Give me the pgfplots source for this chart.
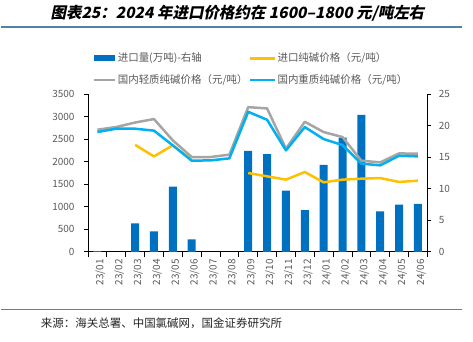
\documentclass[border=0pt]{standalone}
\usepackage{pgfplots}
\pgfplotsset{compat=1.18}
\usepackage{fontspec}
\setmainfont{Noto Sans CJK SC}
\newfontfamily\titlefont[FakeSlant=0.2]{Noto Sans CJK SC}
\definecolor{barblue}{RGB}{0,112,192}
\definecolor{impyellow}{RGB}{255,192,0}
\definecolor{lightgray}{RGB}{165,165,165}
\definecolor{heavyblue}{RGB}{0,176,240}
\definecolor{rulecol}{RGB}{84,130,165}
\definecolor{txtgray}{RGB}{89,89,89}
\pgfplotstableread{
x bar
0 0.1
2 4.5
3 3.25
4 10.35
5 2.0
8 16.0
9 15.5
10 9.7
11 6.6
12 13.8
13 18.1
14 21.7
15 6.4
16 7.5
17 7.6
}\bartable
\pgfplotstableread{
x light heavy imp
0 2710 2659 nan
1 2770 2733 nan
2 2870 2733 2375
3 2947 2690 2118
4 2474 2363 2365
5 2105 2024 2040
6 2105 2030 nan
7 2157 2075 nan
8 3212 3108 1750
9 3183 2931 1676
10 2289 2252 1603
11 2887 2769 1772
12 2658 2503 1543
13 2548 2370 1603
14 2023 1957 1624
15 1986 1920 1638
16 2185 2134 1551
17 2178 2119 1580
}\linetable
\begin{document}
\begin{tikzpicture}[x=1pt,y=1pt]
\path (0,0) rectangle (473,342);
% title
\node[anchor=center,inner sep=0] at (237,329) {\titlefont\bfseries\fontsize{15.5}{17}\selectfont 图表25：2024 年进口价格约在 1600–1800 元/吨左右};
\draw[rulecol,line width=1.6pt] (0,315) -- (462,315);
\draw[rulecol,line width=1.6pt] (0,32) -- (462,32);
\node[anchor=west,inner sep=0,text=black!85] at (40,18) {\fontsize{11.5}{13}\selectfont 来源：海关总署、中国氯碱网，国金证券研究所};
% legend
\fill[barblue] (93,280.5) rectangle (114,286.5);
\node[anchor=west,inner sep=0,text=txtgray] at (117,283.5) {\fontsize{10.5}{12}\selectfont 进口量(万吨)-右轴};
\draw[impyellow,line width=2.5pt] (250,283.5) -- (275,283.5);
\node[anchor=west,inner sep=0,text=txtgray] at (277,283.5) {\fontsize{10.5}{12}\selectfont 进口纯碱价格（元/吨）};
\draw[lightgray,line width=2.5pt] (93,262) -- (114,262);
\node[anchor=west,inner sep=0,text=txtgray] at (117,262) {\fontsize{10.5}{12}\selectfont 国内轻质纯碱价格（元/吨）};
\draw[heavyblue,line width=2.5pt] (250,262) -- (275,262);
\node[anchor=west,inner sep=0,text=txtgray] at (277,262) {\fontsize{10.5}{12}\selectfont 国内重质纯碱价格（元/吨）};
% bars axis (right)
\begin{axis}[
  at={(87.3pt,89.7pt)}, anchor=south west,
  scale only axis, width=340pt, height=158pt,
  xmin=-0.5, xmax=17.5, ymin=0, ymax=25,
  axis y line*=right, axis x line*=bottom,
  axis line style={black,line width=0.8pt,-},
  ytick={0,5,...,25},
  xtick={0,...,17},
  xticklabels={23/01,23/02,23/03,23/04,23/05,23/06,23/07,23/08,23/09,23/10,23/11,23/12,24/01,24/02,24/03,24/04,24/05,24/06},
  major x tick style={draw=none},
  minor xtick={-0.5,0.5,...,17.5},
  minor tick length=5pt,
  minor x tick style={black,line width=0.8pt},
  major tick length=4pt,
  tick align=outside,
  y tick style={black,line width=0.8pt},
  /pgf/number format/assume math mode=true,
  tick label style={font=\fontsize{10}{12}\selectfont,text=txtgray},
  xticklabel style={rotate=90,anchor=east,yshift=-3pt},
  yticklabel style={xshift=4pt},
]
\addplot[ybar,bar width=8pt,fill=barblue,draw=none] table[x=x,y=bar]{\bartable};
\end{axis}
% lines axis (left)
\begin{axis}[
  at={(87.3pt,89.7pt)}, anchor=south west,
  scale only axis, width=340pt, height=158pt,
  xmin=-0.5, xmax=17.5, ymin=0, ymax=3500,
  axis y line*=left, axis x line=none,
  axis line style={black,line width=0.8pt,-},
  ytick={0,500,...,3500},
  major tick length=4pt,
  tick align=outside,
  y tick style={black,line width=0.8pt},
  /pgf/number format/assume math mode=true,
  /pgf/number format/1000 sep={},
  tick label style={font=\fontsize{10}{12}\selectfont,text=txtgray},
  yticklabel style={xshift=-6pt},
  unbounded coords=jump,
]
\addplot[impyellow,line width=2.5pt,line join=round] table[x=x,y=imp]{\linetable};
\addplot[lightgray,line width=2.5pt,line join=round] table[x=x,y=light]{\linetable};
\addplot[heavyblue,line width=2.5pt,line join=round] table[x=x,y=heavy]{\linetable};
\end{axis}
\end{tikzpicture}
\end{document}
